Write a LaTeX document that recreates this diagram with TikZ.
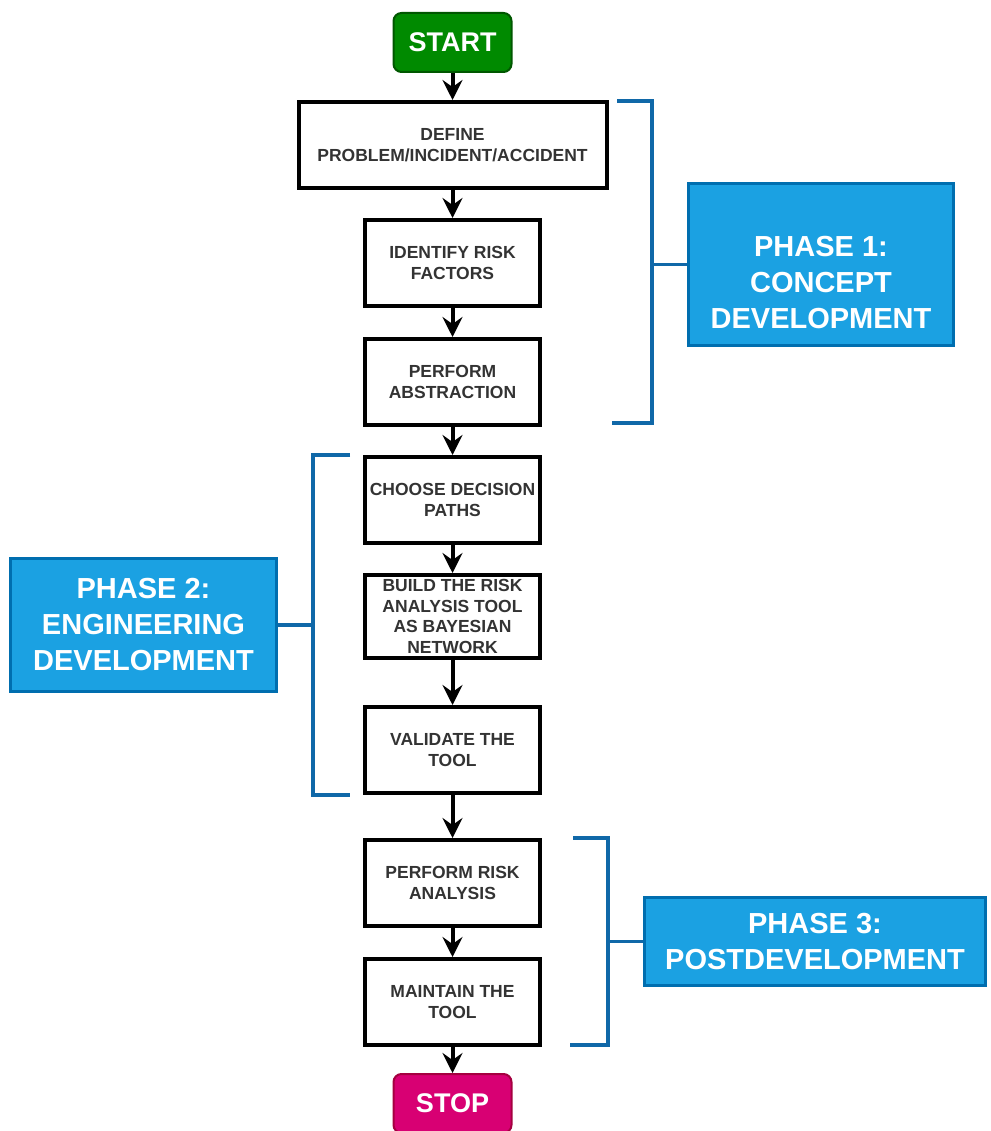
\documentclass[tikz,border=0pt]{standalone}
\usepackage{fontspec}
\setmainfont{Liberation Sans}
\usetikzlibrary{arrows.meta, positioning}

\definecolor{startgreen}{HTML}{008A00}
\definecolor{startedge}{HTML}{005700}
\definecolor{stopmagenta}{HTML}{D80073}
\definecolor{stopedge}{HTML}{A50040}
\definecolor{phasefill}{HTML}{1BA1E2}
\definecolor{phaseedge}{HTML}{006EAF}
\definecolor{bracketblue}{HTML}{1068A8}
\definecolor{steptext}{HTML}{333333}

\begin{document}
\begin{tikzpicture}[
		node distance=28pt,
		stepbox/.style={draw, line width=4pt, minimum width=175pt, minimum height=86pt, align=center, text=steptext, font=\fontsize{17.5}{20.5}\selectfont\bfseries},
		terminal/.style={draw, line width=2pt, rounded corners=8pt, minimum width=118pt, minimum height=59pt, text=white, font=\fontsize{27}{32}\selectfont\bfseries},
		phasetext/.style={text=white, align=center, font=\fontsize{29}{36}\selectfont\bfseries},
		phase/.style={draw=phaseedge, fill=phasefill, line width=3pt, phasetext},
		arrow/.style={-{Stealth[length=20pt, width=20pt, inset=7pt]}, line width=4pt},
		bracket/.style={draw=bracketblue, line width=3.5pt}
	]

		\fill[white] (0,0) rectangle (990pt,-1131pt);
		\useasboundingbox (0,0) rectangle (990pt,-1131pt);

		% Main flow
		\node[terminal, fill=startgreen, draw=startedge] (start) at (452.5pt,-42.5pt) {START};
		\node[stepbox, below=27pt of start, minimum width=308pt] (define) {DEFINE\\PROBLEM/INCIDENT/ACCIDENT};
		\node[stepbox, below=of define] (identify) {IDENTIFY RISK\\FACTORS};
		\node[stepbox, below=29pt of identify] (abstract) {PERFORM\\ABSTRACTION};
		\node[stepbox, below=of abstract] (paths) {CHOOSE DECISION\\PATHS};
		\node[stepbox, below=of paths, minimum height=83pt, inner ysep=2pt] (build) {BUILD THE RISK\\ANALYSIS TOOL\\AS BAYESIAN\\NETWORK};
		\node[stepbox, below=45pt of build] (validate) {VALIDATE THE\\TOOL};
		\node[stepbox, below=43pt of validate] (analysis) {PERFORM RISK\\ANALYSIS};
		\node[stepbox, below=29pt of analysis] (maintain) {MAINTAIN THE\\TOOL};
		\node[terminal, fill=stopmagenta, draw=stopedge, below=26pt of maintain] (stop) {STOP};

		% Arrows
		\draw[arrow] (start) -- (define);
		\draw[arrow] (define) -- (identify);
		\draw[arrow] (identify) -- (abstract);
		\draw[arrow] (abstract) -- (paths);
		\draw[arrow] (paths) -- (build);
		\draw[arrow] (build) -- (validate);
		\draw[arrow] (validate) -- (analysis);
		\draw[arrow] (analysis) -- (maintain);
		\draw[arrow] (maintain) -- (stop);

		% Phases
		\node[phase, minimum width=265pt, minimum height=162pt] (phase1) at (821pt,-264.5pt) {};
		\node[phasetext] (phase1text) at ([yshift=-18pt]phase1.center) {PHASE 1:\\CONCEPT\\DEVELOPMENT};
		\node[phase, minimum width=266pt, minimum height=133pt] (phase2) at (143.5pt,-625pt) {PHASE 2:\\ENGINEERING\\DEVELOPMENT};
		\node[phase, minimum width=341pt, minimum height=88pt] (phase3) at (815pt,-941.5pt) {PHASE 3:\\POSTDEVELOPMENT};

		% Brackets
		\draw[bracket] (617pt,-101pt) -| (652pt,-423pt) -- (612pt,-423pt);
		\draw[bracket] (phase1.west) -- ++(-35pt,0);
		\draw[bracket] (350pt,-455pt) -| (313pt,-795pt) -- (350pt,-795pt);
		\draw[bracket] (phase2.east) -- ++(35pt,0);
		\draw[bracket] (573pt,-838pt) -| (608pt,-1045pt) -- (570pt,-1045pt);
		\draw[bracket] (phase3.west) -- ++(-35pt,0);

	\end{tikzpicture}
\end{document}
